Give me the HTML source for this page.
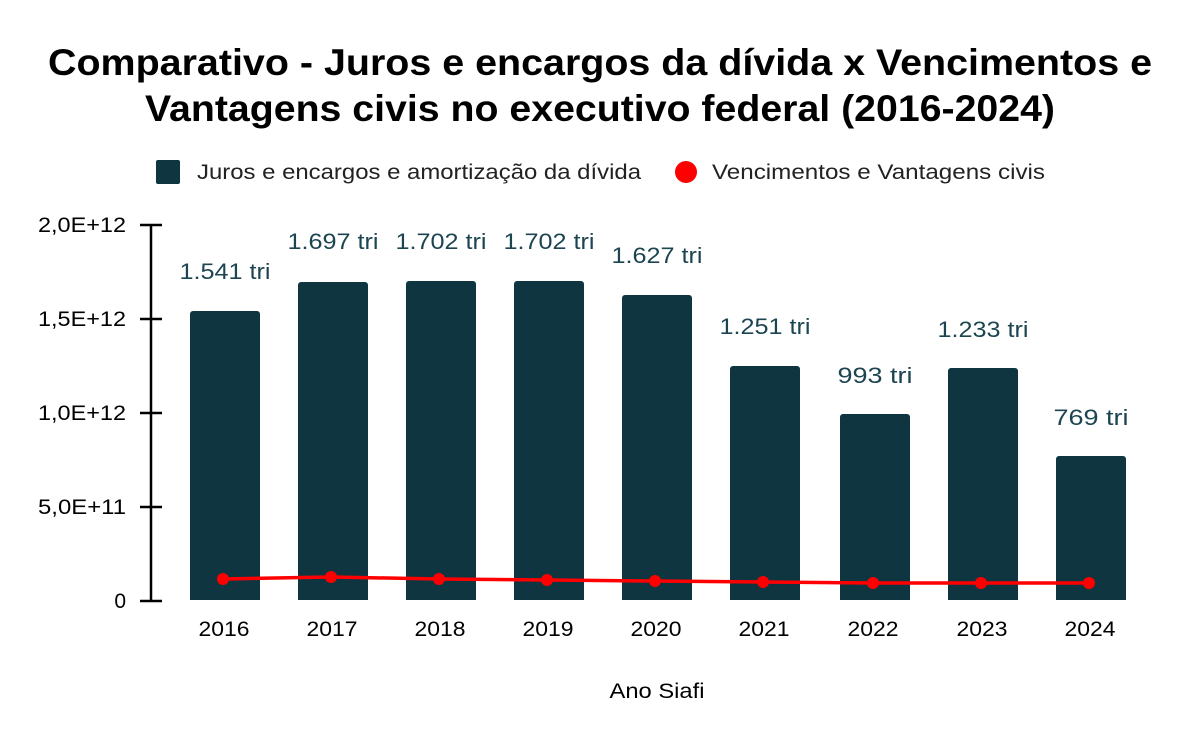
<!DOCTYPE html>
<html><head><meta charset="utf-8"><style>
body{margin:0;background:#fff}
svg{display:block;font-family:"Liberation Sans",Arial,sans-serif}
</style></head><body>
<svg width="1200" height="742" viewBox="0 0 1200 742">
<text x="48" y="75" font-size="37" font-weight="bold" textLength="1104" lengthAdjust="spacingAndGlyphs">Comparativo - Juros e encargos da dívida x Vencimentos e</text>
<text x="145" y="121" font-size="37" font-weight="bold" textLength="910" lengthAdjust="spacingAndGlyphs">Vantagens civis no executivo federal (2016-2024)</text>
<rect x="156" y="160" width="24" height="24" rx="2" fill="#0f3540"/>
<text x="197" y="179" font-size="21" fill="#222" textLength="444" lengthAdjust="spacingAndGlyphs">Juros e encargos e amortização da dívida</text>
<circle cx="686" cy="172" r="11" fill="#f00"/>
<text x="712" y="179" font-size="21" fill="#222" textLength="333" lengthAdjust="spacingAndGlyphs">Vencimentos e Vantagens civis</text>
<g stroke="#000" stroke-width="2.5">
<line x1="151" y1="225" x2="151" y2="601"/>
<line x1="140" y1="225" x2="162" y2="225"/>
<line x1="140" y1="319" x2="162" y2="319"/>
<line x1="140" y1="413" x2="162" y2="413"/>
<line x1="140" y1="507" x2="162" y2="507"/>
<line x1="140" y1="601" x2="162" y2="601"/>
</g>
<g font-size="21">
<text x="38" y="232" textLength="88" lengthAdjust="spacingAndGlyphs">2,0E+12</text>
<text x="38" y="326" textLength="88" lengthAdjust="spacingAndGlyphs">1,5E+12</text>
<text x="38" y="420" textLength="88" lengthAdjust="spacingAndGlyphs">1,0E+12</text>
<text x="38" y="514" textLength="88" lengthAdjust="spacingAndGlyphs">5,0E+11</text>
<text x="126" y="608" text-anchor="end">0</text>
</g>
<g fill="#0f3540">
<path d="M190 600V314a3 3 0 0 1 3-3h64a3 3 0 0 1 3 3V600z"/>
<path d="M298 600V285a3 3 0 0 1 3-3h64a3 3 0 0 1 3 3V600z"/>
<path d="M406 600V284a3 3 0 0 1 3-3h64a3 3 0 0 1 3 3V600z"/>
<path d="M514 600V284a3 3 0 0 1 3-3h64a3 3 0 0 1 3 3V600z"/>
<path d="M622 600V298a3 3 0 0 1 3-3h64a3 3 0 0 1 3 3V600z"/>
<path d="M730 600V369a3 3 0 0 1 3-3h64a3 3 0 0 1 3 3V600z"/>
<path d="M840 600V417a3 3 0 0 1 3-3h64a3 3 0 0 1 3 3V600z"/>
<path d="M948 600V371a3 3 0 0 1 3-3h64a3 3 0 0 1 3 3V600z"/>
<path d="M1056 600V459a3 3 0 0 1 3-3h64a3 3 0 0 1 3 3V600z"/>
</g>
<g font-size="22" fill="#1c4551" text-anchor="middle" style="white-space:pre" xml:space="preserve">
<text x="225" y="279" textLength="91" lengthAdjust="spacingAndGlyphs">1.541  tri</text>
<text x="333" y="249" textLength="91" lengthAdjust="spacingAndGlyphs">1.697  tri</text>
<text x="441" y="249" textLength="91" lengthAdjust="spacingAndGlyphs">1.702  tri</text>
<text x="549" y="249" textLength="91" lengthAdjust="spacingAndGlyphs">1.702  tri</text>
<text x="657" y="263" textLength="91" lengthAdjust="spacingAndGlyphs">1.627  tri</text>
<text x="765" y="334" textLength="91" lengthAdjust="spacingAndGlyphs">1.251  tri</text>
<text x="875" y="383" textLength="75" lengthAdjust="spacingAndGlyphs">993  tri</text>
<text x="983" y="337" textLength="91" lengthAdjust="spacingAndGlyphs">1.233  tri</text>
<text x="1091" y="425" textLength="75" lengthAdjust="spacingAndGlyphs">769  tri</text>
</g>
<polyline fill="none" stroke="#f00" stroke-width="3.5" points="223,579 331,577 439,579 547,580 655,581 763,582 873,583 981,583 1089,583"/>
<g fill="#f00">
<circle cx="223" cy="579" r="6"/><circle cx="331" cy="577" r="6"/><circle cx="439" cy="579" r="6"/>
<circle cx="547" cy="580" r="6"/><circle cx="655" cy="581" r="6"/><circle cx="763" cy="582" r="6"/>
<circle cx="873" cy="583" r="6"/><circle cx="981" cy="583" r="6"/><circle cx="1089" cy="583" r="6"/>
</g>
<g font-size="21" text-anchor="middle">
<text x="224" y="636" textLength="51" lengthAdjust="spacingAndGlyphs">2016</text><text x="332" y="636" textLength="51" lengthAdjust="spacingAndGlyphs">2017</text><text x="440" y="636" textLength="51" lengthAdjust="spacingAndGlyphs">2018</text>
<text x="548" y="636" textLength="51" lengthAdjust="spacingAndGlyphs">2019</text><text x="656" y="636" textLength="51" lengthAdjust="spacingAndGlyphs">2020</text><text x="764" y="636" textLength="51" lengthAdjust="spacingAndGlyphs">2021</text>
<text x="873" y="636" textLength="51" lengthAdjust="spacingAndGlyphs">2022</text><text x="982" y="636" textLength="51" lengthAdjust="spacingAndGlyphs">2023</text><text x="1090" y="636" textLength="51" lengthAdjust="spacingAndGlyphs">2024</text>
</g>
<text x="657" y="698" text-anchor="middle" font-size="21" textLength="95" lengthAdjust="spacingAndGlyphs">Ano Siafi</text>
</svg>
</body></html>
